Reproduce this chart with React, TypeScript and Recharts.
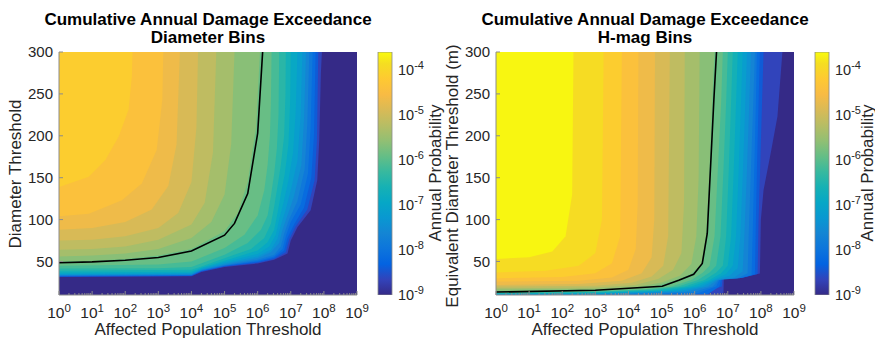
import React from "react";
import { ComposedChart, BarChart, Area, Line, Bar, XAxis, YAxis } from "recharts";

const FONT = "'Liberation Sans', Arial, Helvetica, sans-serif";
const INK = "#262626";
const AXIS = "#8c8c8c";

// log10 of affected population, decades shown on the x axis
const X_DECADES = [0, 1, 2, 3, 4, 5, 6, 7, 8, 9];
const Y_TICKS = [50, 100, 150, 200, 250, 300];
const Y_RANGE = [10, 300];
// colorbar: log10 annual probability
const CB_TICKS = [-9, -8, -7, -6, -5, -4];
const CB_RANGE = [-9, -3.61];
const CB_DATA = [{ name: "cb", range: CB_RANGE }];

// filled contour levels (log10 P) and the lower/right edge of each region P >= level, as [x, y]
const LEFT_LEVELS = [-9, -8.75, -8.5, -8.25, -8, -7.75, -7.5, -7.25, -7, -6.75, -6.5, -6.25, -6, -5.75, -5.5, -5.25, -5, -4.75, -4.5, -4.25];
const LEFT_CURVES = [
  [[0, 10], [9, 10]],
  [[0, 31.5], [4, 32.4], [4.3, 37.5], [5, 43.5], [6, 47.6], [6.5, 52], [6.9, 59.5], [7, 75], [7.2, 91], [7.6, 111], [7.8, 147], [7.86, 195], [7.91, 275], [7.94, 300]],
  [[0, 31.9], [4, 32.8], [4.3, 38], [5, 44], [6, 48.5], [6.5, 53], [6.85, 61], [6.95, 76], [7.15, 92], [7.5, 112], [7.72, 147], [7.79, 195], [7.83, 300]],
  [[0, 32.3], [4, 33.2], [4.3, 38.5], [5, 44.5], [6, 49.5], [6.5, 54.5], [6.8, 63], [6.9, 78], [7.1, 94], [7.4, 114], [7.62, 150], [7.7, 200], [7.75, 300]],
  [[0, 32.7], [4, 33.6], [4.3, 39], [5, 45], [6, 50.5], [6.5, 56], [6.75, 65], [6.85, 80], [7, 97], [7.3, 118], [7.52, 155], [7.6, 210], [7.66, 300]],
  [[0, 33.2], [4, 34], [4.3, 39.5], [5, 45.5], [6, 52], [6.5, 58], [6.7, 68], [6.8, 83], [6.95, 100], [7.2, 122], [7.42, 160], [7.5, 215], [7.56, 300]],
  [[0, 33.8], [4, 34.6], [4.3, 40], [5, 46.5], [6, 54], [6.4, 61], [6.65, 72], [6.75, 88], [6.9, 105], [7.1, 128], [7.32, 165], [7.4, 220], [7.46, 300]],
  [[0, 34.5], [4, 35.3], [4.3, 40.5], [5, 47.5], [6, 56], [6.4, 64], [6.6, 77], [6.7, 93], [6.85, 112], [7, 135], [7.2, 170], [7.3, 225], [7.35, 300]],
  [[0, 35.5], [4, 36.3], [4.3, 41.5], [5, 49], [6, 59], [6.35, 68], [6.55, 82], [6.65, 100], [6.78, 120], [6.92, 145], [7.07, 180], [7.15, 230], [7.2, 300]],
  [[0, 37], [4, 37.8], [4.3, 42.5], [5, 51], [6, 63], [6.3, 73], [6.5, 88], [6.6, 108], [6.7, 130], [6.82, 155], [6.93, 190], [6.98, 240], [7, 300]],
  [[0, 39], [4, 40], [4.3, 44], [5, 54], [5.8, 65], [6.2, 78], [6.4, 95], [6.5, 116], [6.6, 140], [6.7, 165], [6.8, 200], [6.84, 250], [6.85, 300]],
  [[0, 41.5], [3, 42], [4, 43.5], [5, 58], [5.7, 72], [6.1, 88], [6.3, 105], [6.4, 128], [6.5, 155], [6.58, 185], [6.63, 225], [6.65, 300]],
  [[0, 45], [3, 46.5], [4, 50], [5, 66], [5.6, 82], [6, 105], [6.2, 135], [6.3, 165], [6.37, 200], [6.4, 240], [6.42, 300]],
  [[0, 50], [1, 51], [2, 53], [3, 57], [4, 65], [5, 86], [5.4, 108], [5.7, 145], [5.95, 210], [6.07, 300]],
  [[0, 56], [1, 57], [2, 59.5], [3, 65], [4, 78], [4.6, 97], [5, 130], [5.2, 190], [5.3, 300]],
  [[0, 64], [1, 65], [2, 68], [3, 76], [4, 94], [4.4, 120], [4.65, 180], [4.75, 300]],
  [[0, 75], [1, 76], [2, 80], [3, 90], [3.6, 108], [4, 145], [4.15, 210], [4.2, 300]],
  [[0, 88], [1, 90], [2, 97], [2.8, 112], [3.3, 140], [3.55, 190], [3.65, 300]],
  [[0, 104], [0.9, 107], [1.9, 123], [2.5, 143], [2.95, 183], [3.12, 243], [3.15, 300]],
  [[0, 139], [0.9, 151], [1.4, 171], [1.8, 199], [2.1, 231], [2.2, 271], [2.22, 300]],
];
const LEFT_BLACK = [[0, 48.5], [1, 49.5], [2, 51.5], [3, 54.7], [4, 62.5], [5, 81.4], [5.3, 95.4], [5.7, 131], [6, 203], [6.15, 300]];

const RIGHT_LEVELS = [-9, -8.75, -8.5, -8.25, -8, -7.75, -7.5, -7.25, -7, -6.75, -6.5, -6.25, -6, -5.75, -5.5, -5.25, -5, -4.75, -4.5, -4.25, -4, -3.75];
const RIGHT_CURVES = [
  [[0, 10], [9, 10]],
  [[0, 10], [6.5, 10], [6.87, 12], [6.88, 29.5], [7.45, 30.8], [7.97, 35.6], [8, 100], [8.08, 135], [8.3, 180], [8.5, 223], [8.65, 300]],
  [[0, 10], [6, 10], [6.82, 20], [6.84, 29.5], [7.45, 30.5], [7.9, 35.2], [7.93, 100], [7.97, 150], [8.02, 220], [8.08, 300]],
  [[0, 10], [5, 10], [6.4, 11], [6.75, 20], [6.8, 29.5], [7.4, 30.2], [7.82, 34.8], [7.85, 100], [7.88, 160], [7.93, 240], [7.97, 300]],
  [[0, 10], [4, 10], [6.1, 12], [6.65, 20], [6.76, 29], [7.35, 30], [7.72, 34], [7.75, 80], [7.8, 160], [7.85, 240], [7.88, 300]],
  [[0, 10], [3, 10.1], [5.9, 13], [6.55, 20], [6.72, 28], [7.3, 30], [7.6, 36], [7.63, 80], [7.7, 160], [7.77, 240], [7.82, 300]],
  [[0, 10], [3, 10.6], [5.7, 14], [6.4, 20], [6.68, 28], [7.2, 31], [7.45, 38], [7.5, 80], [7.58, 160], [7.65, 240], [7.7, 300]],
  [[0, 10.5], [3, 11.2], [5.5, 14.5], [6.25, 20], [6.62, 28], [7.05, 33], [7.3, 42], [7.38, 80], [7.46, 160], [7.53, 240], [7.58, 300]],
  [[0, 11], [3, 11.8], [5.3, 15], [6.1, 20], [6.55, 28], [6.95, 35], [7.15, 45], [7.25, 80], [7.33, 160], [7.4, 240], [7.45, 300]],
  [[0, 11.5], [3, 12.5], [5.1, 15.5], [5.9, 20], [6.45, 28], [6.8, 36], [7, 45], [7.1, 80], [7.18, 160], [7.25, 240], [7.3, 300]],
  [[0, 12], [3, 13.2], [4.9, 16], [5.7, 20], [6.3, 28], [6.65, 37], [6.85, 45], [6.95, 80], [7.03, 160], [7.1, 240], [7.15, 300]],
  [[0, 12.5], [3, 13.8], [4.7, 16.5], [5.5, 20], [6.1, 28], [6.45, 37], [6.65, 45], [6.78, 80], [6.87, 160], [6.95, 240], [7, 300]],
  [[0, 13], [3, 14.5], [4.5, 17], [5.3, 20], [5.9, 28], [6.25, 37], [6.45, 45], [6.6, 80], [6.7, 160], [6.8, 240], [6.85, 300]],
  [[0, 14.5], [3, 16.3], [4.4, 18.5], [4.9, 21.5], [5.45, 28], [5.9, 35.5], [6.2, 47], [6.35, 83], [6.45, 163], [6.53, 243], [6.6, 300]],
  [[0, 16.5], [3, 17.5], [4.3, 20], [5, 25], [5.55, 33], [5.9, 47], [6.05, 80], [6.12, 150], [6.15, 300]],
  [[0, 18], [3, 19], [4.2, 22], [4.9, 29], [5.35, 40], [5.6, 60], [5.68, 120], [5.7, 300]],
  [[0, 20], [3, 21], [4.1, 24.5], [4.7, 32], [5.05, 45], [5.2, 80], [5.25, 300]],
  [[0, 22], [2.5, 23], [3.8, 27], [4.4, 36], [4.7, 55], [4.78, 100], [4.8, 300]],
  [[0, 26], [2.5, 27], [3.5, 31], [4, 40], [4.22, 65], [4.28, 120], [4.3, 300]],
  [[0, 30], [2, 31.5], [3, 36], [3.5, 48], [3.75, 80], [3.8, 300]],
  [[0, 37], [1.5, 39], [2.5, 45], [3, 60], [3.2, 100], [3.25, 300]],
  [[0, 53], [1, 55], [1.7, 62], [2.1, 80], [2.3, 130], [2.34, 300]],
];
const RIGHT_BLACK = [[0, 13.5], [3, 15.6], [5.02, 20.4], [5.52, 27.6], [5.97, 34.8], [6.23, 47.6], [6.38, 83.4], [6.48, 163], [6.58, 243], [6.66, 300]];

// parula colormap anchors (every 4th entry of the 64-step map)
const PARULA = ["#352a87", "#3243ba", "#0363e1", "#0d75dc", "#1485d4", "#0998d1", "#06a7c6", "#16b1b4", "#38b99e", "#65be86", "#92bf73", "#b7bd64", "#d9ba56", "#f8bb44", "#fec932", "#f5de21", "#f9fb0e"];
const PARULA_POS = [0, 4, 8, 12, 16, 20, 24, 28, 32, 36, 40, 44, 48, 52, 56, 60, 63];

const hexRgb = (h: string) => [1, 3, 5].map((i) => parseInt(h.slice(i, i + 2), 16));

function parula(t: number) {
  const p = Math.min(Math.max(t, 0), 1) * 63;
  let i = 0;
  while (i < PARULA_POS.length - 2 && p > PARULA_POS[i + 1]) i++;
  const f = (p - PARULA_POS[i]) / (PARULA_POS[i + 1] - PARULA_POS[i]);
  const a = hexRgb(PARULA[i]);
  const b = hexRgb(PARULA[i + 1]);
  const c = a.map((v, k) => Math.round(v + (b[k] - v) * f));
  return `rgb(${c[0]},${c[1]},${c[2]})`;
}

const levelColor = (lv: number) =>
  parula((lv - CB_RANGE[0] + (lv > CB_RANGE[0] ? 0.1 : 0)) / (CB_RANGE[1] - CB_RANGE[0]));

const toPts = (c: number[][]) => c.map(([x, y]) => ({ x, y }));

// minor log ticks for the population axis
const X_MINOR = X_DECADES.slice(0, -1).flatMap((d) => [2, 3, 4, 5, 6, 7, 8, 9].map((k) => d + Math.log10(k)));
const X_ALL = [...X_DECADES, ...X_MINOR].sort((a, b) => a - b);

function XTick(props: any) {
  const { x, y, payload, top } = props;
  const v = payload.value;
  const major = Math.abs(v - Math.round(v)) < 1e-6;
  const len = major ? 4 : 2;
  if (top) return <line x1={x} x2={x} y1={y} y2={y + len} stroke={AXIS} />;
  return (
    <g>
      <line x1={x} x2={x} y1={y} y2={y - len} stroke={AXIS} />
      {major && (
        <text x={x} y={y + 23} textAnchor="middle" fontSize={15.5} fill={INK} fontFamily={FONT}>
          10<tspan dy={-6} fontSize={11.5}>{Math.round(v)}</tspan>
        </text>
      )}
    </g>
  );
}

function CbTick(props: any) {
  const { x, y, payload } = props;
  return (
    <text x={x} y={y + 5} textAnchor="start" fontSize={14.5} fill={INK} fontFamily={FONT}>
      10<tspan dy={-6} fontSize={11}>{payload.value}</tspan>
    </text>
  );
}

function ContourPanel({ left, levels, curves, black }: any) {
  return (
    <div style={{ position: "absolute", left, top: 0 }}>
      <ComposedChart width={440} height={342} margin={{ top: 52, right: 83, bottom: 0, left: 9 }}>
        <XAxis xAxisId="b" dataKey="x" type="number" domain={[0, 9]} ticks={X_ALL} interval={0} height={47}
          tickLine={false} tickSize={0} tickMargin={0} stroke={AXIS} allowDataOverflow
          tick={(p: any) => <XTick {...p} />} />
        <XAxis xAxisId="t" orientation="top" type="number" domain={[0, 9]} ticks={X_ALL} interval={0} height={0}
          tickLine={false} tickSize={0} tickMargin={0} stroke={AXIS} allowDataOverflow
          tick={(p: any) => <XTick {...p} top />} />
        <YAxis yAxisId="l" type="number" domain={Y_RANGE} ticks={Y_TICKS} interval={0} width={50}
          tickSize={-4} tickMargin={10} stroke={AXIS} allowDataOverflow
          tick={{ fontSize: 15, fill: INK, fontFamily: FONT }} />
        <YAxis yAxisId="r" orientation="right" type="number" domain={Y_RANGE} ticks={Y_TICKS} interval={0} width={0}
          tickSize={-4} tick={false} stroke={AXIS} allowDataOverflow />
        {curves.map((c: number[][], i: number) => (
          <Area key={i} xAxisId="b" yAxisId="l" data={toPts(c)} dataKey="y" type="linear" baseValue={300}
            fill={levelColor(levels[i])} fillOpacity={1} stroke="none" dot={false} activeDot={false}
            isAnimationActive={false} />
        ))}
        <Line xAxisId="b" yAxisId="l" data={toPts(black)} dataKey="y" type="linear" stroke="#000"
          strokeWidth={1.6} dot={false} activeDot={false} isAnimationActive={false} />
      </ComposedChart>
    </div>
  );
}

function ColorBar({ left, id }: any) {
  return (
    <div style={{ position: "absolute", left, top: 0 }}>
      <BarChart width={106} height={342} data={CB_DATA} margin={{ top: 52, right: 0, bottom: 47, left: 8 }}
        barCategoryGap={0}>
        <defs>
          <linearGradient id={id} x1="0" y1="1" x2="0" y2="0">
            {PARULA.map((c, i) => (
              <stop key={i} offset={PARULA_POS[i] / 63} stopColor={c} />
            ))}
          </linearGradient>
        </defs>
        <XAxis dataKey="name" hide />
        <YAxis orientation="right" type="number" domain={CB_RANGE} ticks={CB_TICKS} interval={0} width={84}
          tickLine={false} axisLine={false} tickSize={0} tickMargin={6} allowDataOverflow
          tick={(p: any) => <CbTick {...p} />} />
        <Bar dataKey="range" fill={`url(#${id})`} stroke={AXIS} strokeWidth={0.8} isAnimationActive={false} />
      </BarChart>
    </div>
  );
}

function Labels() {
  const t = { fontFamily: FONT, fill: INK, fontSize: 17 } as const;
  const title = { fontFamily: FONT, fill: "#000", fontSize: 17, fontWeight: "bold" } as const;
  const rot = (x: number, y: number, s: string) => (
    <text transform={`translate(${x},${y}) rotate(-90)`} textAnchor="middle" dominantBaseline="central" {...t}>{s}</text>
  );
  return (
    <svg width={875} height={342} style={{ position: "absolute", left: 0, top: 0, pointerEvents: "none" }}>
      <text x={208} y={25} textAnchor="middle" {...title}>Cumulative Annual Damage Exceedance</text>
      <text x={208} y={43} textAnchor="middle" {...title}>Diameter Bins</text>
      <text x={645} y={25} textAnchor="middle" {...title}>Cumulative Annual Damage Exceedance</text>
      <text x={645} y={43} textAnchor="middle" {...title}>H-mag Bins</text>
      <text x={208} y={335} textAnchor="middle" {...t}>Affected Population Threshold</text>
      <text x={645} y={335} textAnchor="middle" {...t}>Affected Population Threshold</text>
      {rot(15, 174, "Diameter Threshold")}
      {rot(452, 176, "Equivalent Diameter Threshold (m)")}
      {rot(435, 173, "Annual Probability")}
      {rot(867, 173, "Annual Probability")}
    </svg>
  );
}

export default function App() {
  return (
    <div style={{ position: "absolute", left: 0, top: 0, width: 875, height: 342, overflow: "hidden", background: "#fff" }}>
      <ContourPanel left={0} levels={LEFT_LEVELS} curves={LEFT_CURVES} black={LEFT_BLACK} />
      <ColorBar left={370} id="parulaL" />
      <ContourPanel left={437} levels={RIGHT_LEVELS} curves={RIGHT_CURVES} black={RIGHT_BLACK} />
      <ColorBar left={807} id="parulaR" />
      <Labels />
    </div>
  );
}
